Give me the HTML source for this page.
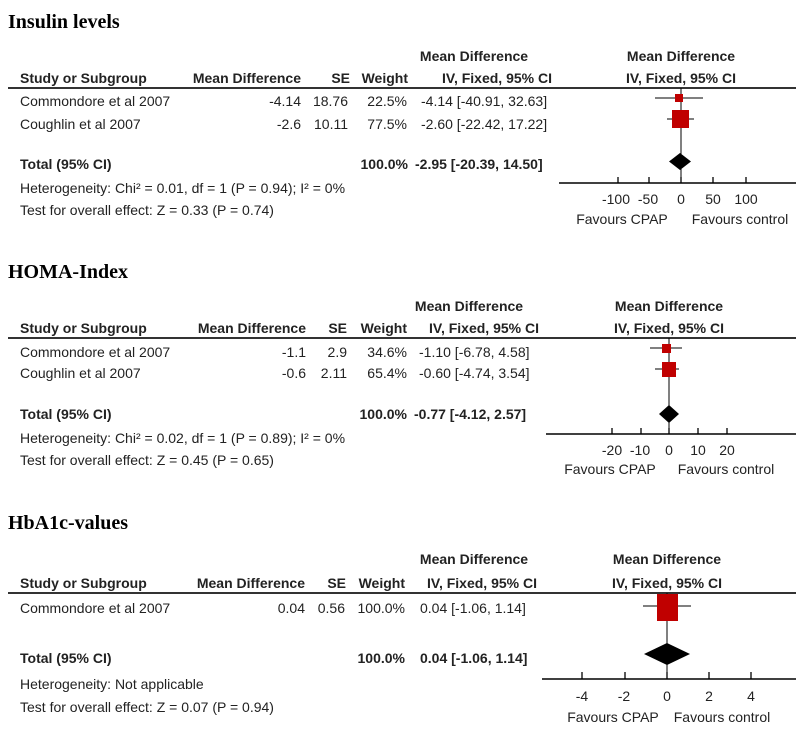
<!DOCTYPE html>
<html><head><meta charset="utf-8"><style>
html,body{margin:0;padding:0;background:#fff;}
svg{display:block;}
text{font-family:"Liberation Sans",Arial,sans-serif;font-size:14px;fill:#222;}
.b{font-weight:bold;}
.t{font-family:"Liberation Serif","Times New Roman",serif;font-size:20px;font-weight:bold;fill:#000;}
.e{text-anchor:end;}
.m{text-anchor:middle;}
.ax{stroke:#000;stroke-width:1.5;fill:none;}
</style></head><body>
<svg width="796" height="740" viewBox="0 0 796 740" xmlns="http://www.w3.org/2000/svg">
<!-- Panel 1 -->
<text class="t" x="8" y="28">Insulin levels</text>
<text class="b m" x="474" y="61">Mean Difference</text>
<text class="b m" x="681" y="61">Mean Difference</text>
<text class="b" x="20" y="83">Study or Subgroup</text>
<text class="b e" x="301" y="83">Mean Difference</text>
<text class="b e" x="350" y="83">SE</text>
<text class="b e" x="408" y="83">Weight</text>
<text class="b e" x="552" y="83">IV, Fixed, 95% CI</text>
<text class="b m" x="681" y="83">IV, Fixed, 95% CI</text>
<line x1="8" y1="88" x2="796" y2="88" stroke="#333" stroke-width="2"/>
<text x="20" y="106">Commondore et al 2007</text>
<text class="e" x="301" y="106">-4.14</text>
<text class="e" x="348" y="106">18.76</text>
<text class="e" x="407" y="106">22.5%</text>
<text x="421" y="106">-4.14 [-40.91, 32.63]</text>
<text x="20" y="129">Coughlin et al 2007</text>
<text class="e" x="301" y="129">-2.6</text>
<text class="e" x="348" y="129">10.11</text>
<text class="e" x="407" y="129">77.5%</text>
<text x="421" y="129">-2.60 [-22.42, 17.22]</text>
<text class="b" x="20" y="169">Total (95% CI)</text>
<text class="b e" x="408" y="169">100.0%</text>
<text class="b" x="415" y="169">-2.95 [-20.39, 14.50]</text>
<text x="20" y="193">Heterogeneity: Chi² = 0.01, df = 1 (P = 0.94); I² = 0%</text>
<text x="20" y="215">Test for overall effect: Z = 0.33 (P = 0.74)</text>
<line x1="681" y1="88" x2="681" y2="183" stroke="#000" stroke-width="1"/>
<line x1="655" y1="98" x2="703" y2="98" stroke="#000"/>
<rect x="675" y="94" width="8" height="8" fill="#c00000"/>
<line x1="667" y1="119" x2="694" y2="119" stroke="#000"/>
<rect x="672" y="110" width="17" height="18" fill="#c00000"/>
<polygon points="669,161.5 680,153 691,161.5 680,170" fill="#000"/>
<line class="ax" x1="559" y1="183" x2="796" y2="183"/>
<g stroke="#000" stroke-width="1.3"><line x1="618" y1="177" x2="618" y2="183"/><line x1="649" y1="177" x2="649" y2="183"/><line x1="681" y1="177" x2="681" y2="183"/><line x1="713" y1="177" x2="713" y2="183"/><line x1="746" y1="177" x2="746" y2="183"/></g>
<text class="m" x="616" y="204">-100</text><text class="m" x="648" y="204">-50</text><text class="m" x="681" y="204">0</text><text class="m" x="713" y="204">50</text><text class="m" x="746" y="204">100</text>
<text class="m" x="622" y="224">Favours CPAP</text><text class="m" x="740" y="224">Favours control</text>

<!-- Panel 2 -->
<text class="t" x="8" y="278">HOMA-Index</text>
<text class="b m" x="469" y="311">Mean Difference</text>
<text class="b m" x="669" y="311">Mean Difference</text>
<text class="b" x="20" y="333">Study or Subgroup</text>
<text class="b e" x="306" y="333">Mean Difference</text>
<text class="b e" x="347" y="333">SE</text>
<text class="b e" x="407" y="333">Weight</text>
<text class="b e" x="539" y="333">IV, Fixed, 95% CI</text>
<text class="b m" x="669" y="333">IV, Fixed, 95% CI</text>
<line x1="8" y1="338" x2="796" y2="338" stroke="#333" stroke-width="2"/>
<text x="20" y="357">Commondore et al 2007</text>
<text class="e" x="306" y="357">-1.1</text>
<text class="e" x="347" y="357">2.9</text>
<text class="e" x="407" y="357">34.6%</text>
<text x="419" y="357">-1.10 [-6.78, 4.58]</text>
<text x="20" y="378">Coughlin et al 2007</text>
<text class="e" x="306" y="378">-0.6</text>
<text class="e" x="347" y="378">2.11</text>
<text class="e" x="407" y="378">65.4%</text>
<text x="419" y="378">-0.60 [-4.74, 3.54]</text>
<text class="b" x="20" y="419">Total (95% CI)</text>
<text class="b e" x="407" y="419">100.0%</text>
<text class="b" x="414" y="419">-0.77 [-4.12, 2.57]</text>
<text x="20" y="443">Heterogeneity: Chi² = 0.02, df = 1 (P = 0.89); I² = 0%</text>
<text x="20" y="465">Test for overall effect: Z = 0.45 (P = 0.65)</text>
<line x1="669" y1="338" x2="669" y2="434" stroke="#000" stroke-width="1"/>
<line x1="650" y1="348" x2="682" y2="348" stroke="#000"/>
<rect x="662" y="344" width="9" height="9" fill="#c00000"/>
<line x1="655" y1="369" x2="679" y2="369" stroke="#000"/>
<rect x="662" y="362" width="14" height="15" fill="#c00000"/>
<polygon points="659,414 669,405 679,414 669,423" fill="#000"/>
<line class="ax" x1="546" y1="434" x2="796" y2="434"/>
<g stroke="#000" stroke-width="1.3"><line x1="612" y1="428" x2="612" y2="434"/><line x1="641" y1="428" x2="641" y2="434"/><line x1="669" y1="428" x2="669" y2="434"/><line x1="698" y1="428" x2="698" y2="434"/><line x1="727" y1="428" x2="727" y2="434"/></g>
<text class="m" x="612" y="455">-20</text><text class="m" x="640" y="455">-10</text><text class="m" x="669" y="455">0</text><text class="m" x="698" y="455">10</text><text class="m" x="727" y="455">20</text>
<text class="m" x="610" y="474">Favours CPAP</text><text class="m" x="726" y="474">Favours control</text>

<!-- Panel 3 -->
<text class="t" x="8" y="529">HbA1c-values</text>
<text class="b m" x="474" y="564">Mean Difference</text>
<text class="b m" x="667" y="564">Mean Difference</text>
<text class="b" x="20" y="588">Study or Subgroup</text>
<text class="b e" x="305" y="588">Mean Difference</text>
<text class="b e" x="346" y="588">SE</text>
<text class="b e" x="405" y="588">Weight</text>
<text class="b e" x="537" y="588">IV, Fixed, 95% CI</text>
<text class="b m" x="667" y="588">IV, Fixed, 95% CI</text>
<line x1="8" y1="593" x2="796" y2="593" stroke="#333" stroke-width="2"/>
<text x="20" y="613">Commondore et al 2007</text>
<text class="e" x="305" y="613">0.04</text>
<text class="e" x="345" y="613">0.56</text>
<text class="e" x="405" y="613">100.0%</text>
<text x="420" y="613">0.04 [-1.06, 1.14]</text>
<text class="b" x="20" y="663">Total (95% CI)</text>
<text class="b e" x="405" y="663">100.0%</text>
<text class="b" x="420" y="663">0.04 [-1.06, 1.14]</text>
<text x="20" y="689">Heterogeneity: Not applicable</text>
<text x="20" y="712">Test for overall effect: Z = 0.07 (P = 0.94)</text>
<line x1="667" y1="593" x2="667" y2="679" stroke="#000" stroke-width="1"/>
<line x1="643" y1="606" x2="691" y2="606" stroke="#000"/>
<rect x="657" y="594" width="21" height="27" fill="#c00000"/>
<polygon points="644,654 667,643 690,654 667,665" fill="#000"/>
<line class="ax" x1="542" y1="679" x2="796" y2="679"/>
<g stroke="#000" stroke-width="1.3"><line x1="582" y1="672" x2="582" y2="679"/><line x1="625" y1="672" x2="625" y2="679"/><line x1="667" y1="672" x2="667" y2="679"/><line x1="709" y1="672" x2="709" y2="679"/><line x1="751" y1="672" x2="751" y2="679"/></g>
<text class="m" x="582" y="701">-4</text><text class="m" x="624" y="701">-2</text><text class="m" x="667" y="701">0</text><text class="m" x="709" y="701">2</text><text class="m" x="751" y="701">4</text>
<text class="m" x="613" y="722">Favours CPAP</text><text class="m" x="722" y="722">Favours control</text>
</svg>
</body></html>
